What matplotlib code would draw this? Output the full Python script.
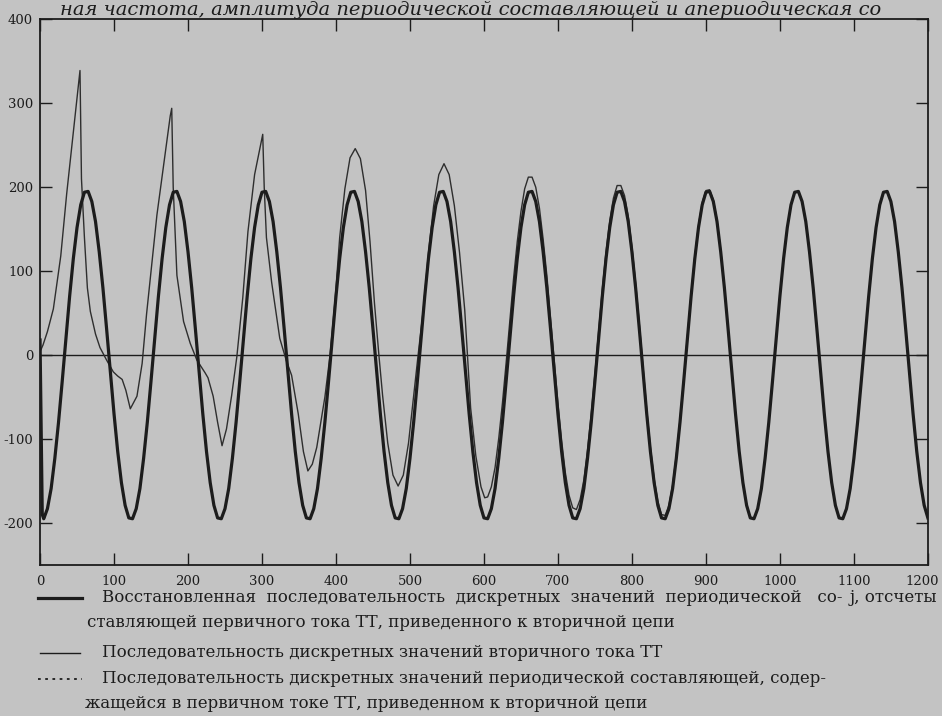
import numpy as np
import matplotlib
matplotlib.use('Agg')
import matplotlib.pyplot as plt
import matplotlib.transforms as mtransforms
from matplotlib.lines import Line2D

plt.rcParams['axes.unicode_minus'] = False

# отсчеты j и значения тока (шаг 5 отсчетов)
# восстановленная периодическая составляющая (жирная линия)
rec_j = [0, 3] + list(range(5, 1201, 5))
rec_val = [18, -190,
           -195, -183, -159, -123, -80, -31, 20, 70, 115, 152, 179, 194,
           195, 183, 159, 123, 80, 31, -20, -70, -115, -152, -179, -194,
           -195, -183, -159, -123, -80, -31, 20, 70, 115, 152, 179, 194,
           195, 183, 159, 123, 80, 31, -20, -70, -115, -152, -179, -194,
           -195, -183, -159, -123, -80, -31, 20, 70, 115, 152, 179, 194,
           195, 183, 159, 123, 80, 31, -20, -70, -115, -152, -179, -194,
           -195, -183, -159, -123, -80, -31, 20, 70, 115, 152, 179, 194,
           195, 183, 159, 123, 80, 31, -20, -70, -115, -152, -179, -194,
           -195, -183, -159, -123, -80, -31, 20, 70, 115, 152, 179, 194,
           195, 183, 159, 123, 80, 31, -20, -70, -115, -152, -179, -194,
           -195, -183, -159, -123, -80, -31, 20, 70, 115, 152, 179, 194,
           195, 183, 159, 123, 80, 31, -20, -70, -115, -152, -179, -194,
           -195, -183, -159, -123, -80, -31, 20, 70, 115, 152, 179, 194,
           195, 183, 159, 123, 80, 31, -20, -70, -115, -152, -179, -194,
           -195, -183, -159, -123, -80, -31, 20, 70, 115, 152, 179, 194,
           195, 183, 159, 123, 80, 31, -20, -70, -115, -152, -179, -194,
           -195, -183, -159, -123, -80, -31, 20, 70, 115, 152, 179, 194,
           195, 183, 159, 123, 80, 31, -20, -70, -115, -152, -179, -194,
           -195, -183, -159, -123, -80, -31, 20, 70, 115, 152, 179, 194,
           195, 183, 159, 123, 80, 31, -20, -70, -115, -152, -179, -194]

# периодическая составляющая первичного тока (пунктир) - совпадает с жирной
per_j = rec_j[2:]
per_val = rec_val[2:]

# вторичный ток ТТ (тонкая линия)
sec_j = [0, 4, 10, 18, 28, 36, 45, 54, 56, 60, 64, 68, 75, 81, 90, 99, 105, 111,
         116, 122, 131, 138, 144, 151, 158, 167, 176, 178, 180, 185, 194, 203,
         212, 223, 227, 234, 240, 246, 252, 259, 266, 274, 281, 290, 301, 303,
         306, 313, 324, 333, 340, 349, 356, 362, 368, 374, 385, 392, 399, 405,
         412, 419, 426, 433, 440, 446, 452, 458, 463, 470, 477, 484, 491, 498,
         505, 511, 518, 525, 532, 539, 546, 553, 560, 567, 574, 582, 589, 596,
         601] + list(range(605, 1201, 5))
sec_val = [4, 12, 28, 55, 118, 192, 265, 339, 210, 140, 80, 52, 25, 9, -6, -20, -25, -29,
           -42, -64, -49, -10, 49, 108, 167, 226, 285, 294, 200, 95, 40, 14,
           -6, -21, -27, -49, -80, -108, -88, -48, -2, 68, 147, 215, 263, 200,
           140, 87, 20, -7, -24, -70, -115, -138, -130, -110, -50, 0, 68, 140,
           198, 235, 246, 234, 196, 135, 62, 0, -48, -105, -143, -156, -143, -105,
           -48, 0, 54, 122, 178, 215, 228, 215, 178, 122, 54, -63, -120, -157,
           -170,
           -169, -157, -134, -99, -57, -9, 41, 91, 135, 171, 198, 212,
           212, 200, 175, 138, 95, 45, -6, -57, -102, -140, -167, -182,
           -184, -172, -149, -113, -70, -22, 29, 79, 123, 160, 187, 202,
           202, 190, 166, 129, 86, 37, -14, -65, -110, -147, -174, -190,
           -191, -179, -155, -119, -77, -28, 23, 73, 118, 155, 182, 196,
           197, 185, 161, 125, 82, 33, -19, -69, -114, -151, -178, -193,
           -195, -183, -159, -123, -80, -31, 20, 70, 115, 152, 179, 194,
           195, 183, 159, 123, 80, 31, -20, -70, -115, -152, -179, -194,
           -195, -183, -159, -123, -80, -31, 20, 70, 115, 152, 179, 194,
           195, 183, 159, 123, 80, 31, -20, -70, -115, -152, -179, -194]

x_ticks = list(range(0, 1201, 100))
y_ticks = [-200, -100, 0, 100, 200, 300, 400]

bg = '#c3c3c3'
ink = '#1c1c1c'
serif = ['DejaVu Serif']

fig = plt.figure(figsize=(9.42, 7.16), dpi=100, facecolor=bg)
ax = fig.add_axes([0.0425, 0.211, 0.9425, 0.762])
ax.set_facecolor(bg)

ax.axhline(0, color=ink, linewidth=1.0, zorder=1)
ax.plot(per_j, per_val, ':', color=ink, linewidth=1.0, zorder=2)
ax.plot(sec_j, sec_val, '-', color='#2e2e2e', linewidth=1.0, zorder=3)
ax.plot(rec_j, rec_val, '-', color=ink, linewidth=2.3, zorder=4)

ax.set_xlim(0, 1200)
ax.set_ylim(-250, 400)
ax.set_xticks(x_ticks)
ax.set_yticks(y_ticks)
ax.tick_params(direction='in', top=True, right=True, length=8.5, width=1.0,
               colors=ink, labelsize=9.5)
ax.tick_params(axis='y', pad=5)
ax.tick_params(axis='x', pad=7)
for lab in ax.get_xticklabels() + ax.get_yticklabels():
    lab.set_family(serif)
# последняя подпись 1200 чуть левее, чтобы не обрезалась
last = ax.get_xticklabels()[-1]
last.set_transform(last.get_transform() +
                   mtransforms.ScaledTranslation(-6 / 100, 0, fig.dpi_scale_trans))
for sp in ax.spines.values():
    sp.set_linewidth(1.3)
    sp.set_color(ink)

# строка текста страницы сверху
fig.text(0.5, 0.999, 'ная частота, амплитуда периодической составляющей и апериодическая со',
         ha='center', va='top', fontsize=14, style='italic', family=serif, color=ink)

# подпись оси
fig.text(0.902, 0.165, 'j, отсчеты', ha='left', va='center', fontsize=12,
         family=serif, color=ink)

# легенда
fs = 12
fig.add_artist(Line2D([0.040, 0.087], [0.165, 0.165], color=ink, linewidth=2.3,
                      transform=fig.transFigure))
fig.text(0.108, 0.165,
         'Восстановленная  последовательность  дискретных  значений  периодической   со-',
         ha='left', va='center', fontsize=fs, family=serif, color=ink)
fig.text(0.092, 0.130, 'ставляющей первичного тока ТТ, приведенного к вторичной цепи',
         ha='left', va='center', fontsize=fs, family=serif, color=ink)

fig.add_artist(Line2D([0.042, 0.085], [0.088, 0.088], color=ink, linewidth=1.0,
                      transform=fig.transFigure))
fig.text(0.108, 0.088, 'Последовательность дискретных значений вторичного тока ТТ',
         ha='left', va='center', fontsize=fs, family=serif, color=ink)

fig.add_artist(Line2D([0.040, 0.087], [0.052, 0.052], color=ink, linewidth=1.3,
                      linestyle=(0, (1.5, 2.5)), transform=fig.transFigure))
fig.text(0.108, 0.052,
         'Последовательность дискретных значений периодической составляющей, содер-',
         ha='left', va='center', fontsize=fs, family=serif, color=ink)
fig.text(0.090, 0.018, 'жащейся в первичном токе ТТ, приведенном к вторичной цепи',
         ha='left', va='center', fontsize=fs, family=serif, color=ink)

fig.savefig('out.png', dpi=100, facecolor=bg)
